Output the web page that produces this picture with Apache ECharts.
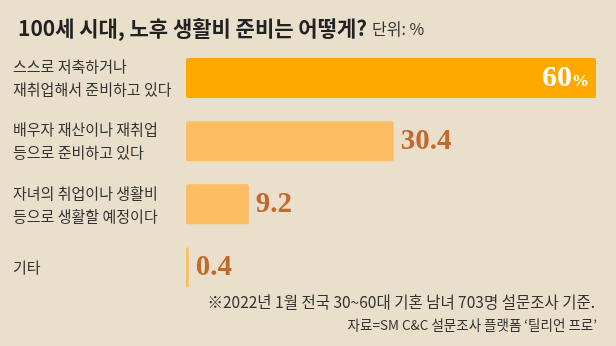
<!DOCTYPE html>
<html>
<head>
<meta charset="utf-8">
<script src="https://cdn.jsdelivr.net/npm/echarts@6/dist/echarts.min.js"></script>
<style>
  html, body { margin: 0; padding: 0; background: #e9dfca; }
  #chart { width: 616px; height: 346px; }
</style>
</head>
<body>
<div id="chart"></div>
<script>
// Survey answers: how people prepare for living costs in old age (unit: %)
const categories = [
  '스스로 저축하거나\n재취업해서 준비하고 있다',
  '배우자 재산이나 재취업\n등으로 준비하고 있다',
  '자녀의 취업이나 생활비\n등으로 생활할 예정이다',
  '기타'
];
const shares = [60, 30.4, 9.2, 0.4];

const titleText = '100세 시대, 노후 생활비 준비는 어떻게?';
const unitText = '단위: %';
const noteText = '※2022년 1월 전국 30~60대 기혼 남녀 703명 설문조사 기준.';
const sourceText = '자료=SM C&C 설문조사 플랫폼 ‘틸리언 프로’';

const KR = '"Noto Sans CJK KR", "Noto Sans", sans-serif';
const SERIF = '"Liberation Serif", "DejaVu Serif", serif';

const topColor = '#fea800';
const restColor = '#fdbd63';
const valueColor = '#c3692c';

const barData = shares.map((v, i) => {
  if (i === 0) {
    return {
      value: v,
      itemStyle: { color: topColor },
      label: {
        position: 'insideRight',
        distance: 7,
        formatter: p => '{num|' + p.value + '}{pct|%}',
        rich: {
          num: { fontFamily: SERIF, fontWeight: 'bold', fontSize: 30, color: '#ffffff' },
          pct: { fontFamily: SERIF, fontWeight: 'bold', fontSize: 17, color: '#ffffff', padding: [8, 0, 0, 0] }
        }
      }
    };
  }
  return { value: v };
});

const chart = echarts.init(document.getElementById('chart'), null, { renderer: 'canvas' });
chart.setOption({
  backgroundColor: '#e9dfca',
  animation: false,
  title: [
    {
      left: 13,
      top: 13,
      text: '{t|' + titleText + '} {u|' + unitText + '}',
      textStyle: {
        rich: {
          t: { fontFamily: KR, fontWeight: 'bold', fontSize: 21, color: '#222222' },
          u: { fontFamily: KR, fontWeight: 'normal', fontSize: 16, color: '#333333' }
        }
      }
    },
    {
      right: 16,
      top: 289,
      text: noteText,
      textStyle: { fontFamily: KR, fontWeight: 'normal', fontSize: 15.5, color: '#333333' }
    },
    {
      right: 14,
      top: 313,
      text: sourceText,
      textStyle: { fontFamily: KR, fontWeight: 'normal', fontSize: 13.5, color: '#333333' }
    }
  ],
  grid: { left: 186, right: 20, top: 46.5, bottom: 47, containLabel: false },
  xAxis: {
    type: 'value',
    min: 0,
    max: 60,
    show: false
  },
  yAxis: {
    type: 'category',
    data: categories,
    inverse: true,
    axisLine: { show: false },
    axisTick: { show: false },
    splitLine: { show: false },
    axisLabel: {
      align: 'left',
      margin: 173,
      fontFamily: KR,
      fontSize: 15,
      lineHeight: 23,
      color: '#333333'
    }
  },
  series: [{
    type: 'bar',
    data: barData,
    barWidth: 40,
    itemStyle: { color: restColor, borderRadius: 2 },
    label: {
      show: true,
      position: 'right',
      distance: 7,
      fontFamily: SERIF,
      fontWeight: 'bold',
      fontSize: 29,
      color: valueColor
    }
  }]
});
</script>
</body>
</html>
